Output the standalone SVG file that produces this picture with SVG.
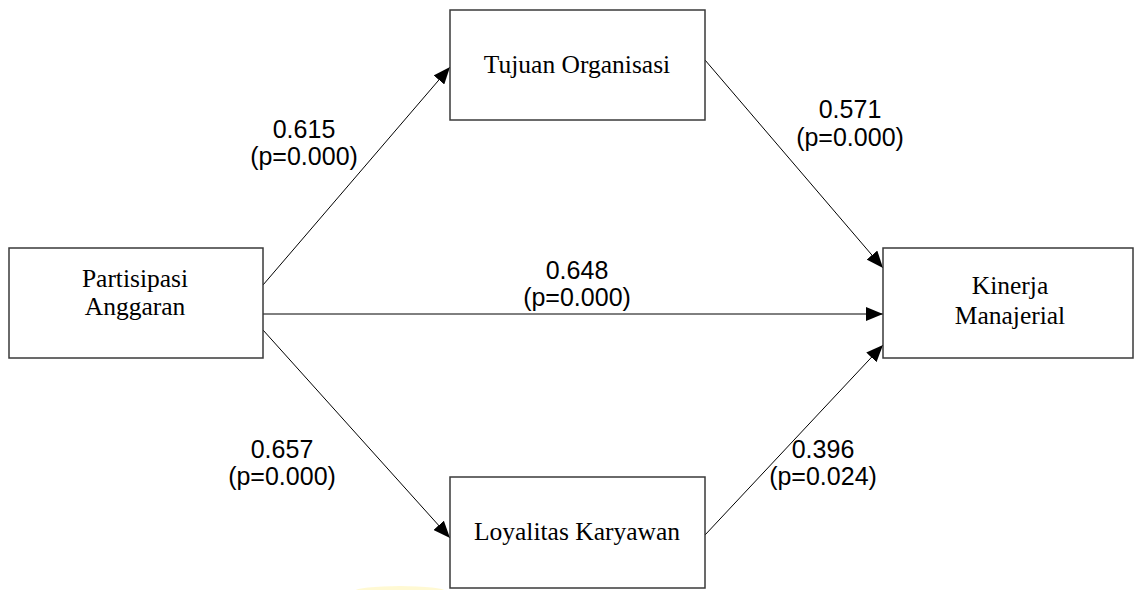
<svg xmlns="http://www.w3.org/2000/svg" width="1136" height="590" viewBox="0 0 1136 590">
<style>
.box{fill:#fff;stroke:#3a3a3a;stroke-width:1.5}
.nt{font-family:"Liberation Serif","Times New Roman",serif;font-size:25.5px;fill:#000;text-anchor:middle}
.lb{font-family:"Liberation Sans",Arial,sans-serif;font-size:25px;fill:#000;text-anchor:middle}
.ln{stroke:#000;stroke-width:1;fill:none;marker-end:url(#ah)}
</style>
<defs>
<marker id="ah" markerUnits="userSpaceOnUse" markerWidth="18" markerHeight="14" refX="17" refY="7" orient="auto">
<path d="M0,0 L17,7 L0,14 Z" fill="#000"/>
</marker>
</defs>
<rect width="1136" height="590" fill="#fff"/>
<ellipse cx="400" cy="591" rx="45" ry="5" fill="#fff8c8" opacity="0.8"/>
<g id="connectors">
<path class="ln" d="M263,285 L450,67"/>
<path class="ln" d="M705,60 L883,268"/>
<path class="ln" d="M263,314 L883,314"/>
<path class="ln" d="M263,330 L450,538"/>
<path class="ln" d="M705,535 L883,345"/>
</g>
<g id="labels">
<text class="lb" x="304" y="138">0.615</text>
<text class="lb" x="304" y="165">(p=0.000)</text>
<text class="lb" x="850" y="118">0.571</text>
<text class="lb" x="850" y="146">(p=0.000)</text>
<text class="lb" x="577" y="279">0.648</text>
<text class="lb" x="577" y="306">(p=0.000)</text>
<text class="lb" x="282" y="458">0.657</text>
<text class="lb" x="282" y="485">(p=0.000)</text>
<text class="lb" x="823" y="458">0.396</text>
<text class="lb" x="823" y="485">(p=0.024)</text>
</g>
<g id="partisipasi">
<rect class="box" x="9" y="248" width="254" height="110"/>
<text class="nt" x="135" y="287">Partisipasi</text>
<text class="nt" x="135" y="315">Anggaran</text>
</g>
<g id="tujuan">
<rect class="box" x="450" y="10" width="255" height="110"/>
<text class="nt" x="577" y="73">Tujuan Organisasi</text>
</g>
<g id="kinerja">
<rect class="box" x="883" y="248" width="250" height="110"/>
<text class="nt" x="1010" y="294">Kinerja</text>
<text class="nt" x="1010" y="324">Manajerial</text>
</g>
<g id="loyalitas">
<rect class="box" x="450" y="477" width="255" height="111"/>
<text class="nt" x="577" y="540">Loyalitas Karyawan</text>
</g>
</svg>
